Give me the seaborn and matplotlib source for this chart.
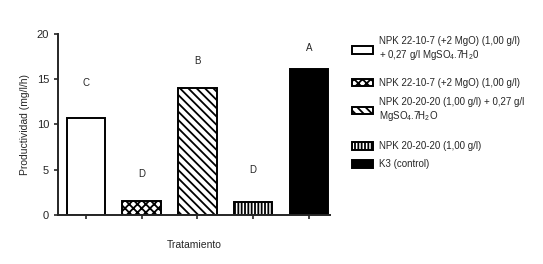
import pandas as pd
import seaborn as sns
import matplotlib.pyplot as plt
from matplotlib.patches import Patch

# data
treatments = ['NPK 22-10-7 (+2 MgO) (1,00 g/l)\n+ 0,27 g/l MgSO$_4$.7H$_2$0',
              'NPK 22-10-7 (+2 MgO) (1,00 g/l)',
              'NPK 20-20-20 (1,00 g/l) + 0,27 g/l\nMgSO$_4$.7H$_2$O',
              'NPK 20-20-20 (1,00 g/l)',
              'K3 (control)']
productividad = [10.7, 1.55, 14.05, 1.4, 16.1]
letters = ['C', 'D', 'B', 'D', 'A']
letter_y = [14.6, 4.5, 17.05, 5.0, 18.5]

fills = ['white', 'white', 'white', 'white', 'black']
hatches = ['', 'xxxx', '\\\\\\\\', '|||||', '']

df = pd.DataFrame({'trat': treatments, 'prod': productividad})

sns.set_style('ticks')
plt.rcParams['font.family'] = ['Liberation Sans', 'DejaVu Sans']
plt.rcParams['hatch.linewidth'] = 1.3
plt.rcParams['mathtext.fontset'] = 'custom'
plt.rcParams['mathtext.rm'] = 'Liberation Sans'

fig = plt.figure(figsize=(5.43, 2.64), dpi=100)
ax = fig.add_axes([0.107, 0.186, 0.501, 0.685])

sns.barplot(data=df, x='trat', y='prod', hue='trat', palette=dict(zip(treatments, fills)),
            edgecolor='black', linewidth=1.4, width=0.69, legend=False, ax=ax)
for bar, h in zip(ax.patches, hatches):
    bar.set_hatch(h)

for i, (lab, yy) in enumerate(zip(letters, letter_y)):
    ax.text(i, yy, lab, ha='center', va='center', fontsize=7)

ax.set_ylim(0, 20)
ax.set_xlim(-0.5, 4.38)
ax.set_yticks([0, 5, 10, 15, 20])
ax.set_xticks(range(5))
ax.set_xticklabels([])
ax.tick_params(axis='both', length=3, width=1.2, labelsize=8)
ax.tick_params(axis='x', pad=2)
sns.despine(ax=ax)
for s in ['left', 'bottom']:
    ax.spines[s].set_linewidth(1.4)
ax.set_xlabel('Tratamiento', fontsize=7.5, labelpad=13)
ax.set_ylabel('Productividad (mg/l/h)', fontsize=7.5, labelpad=5)

# legend entries placed one by one to keep the uneven spacing
leg_y = [0.814, 0.686, 0.584, 0.447, 0.378]
for lab, f, h, yy in zip(treatments, fills, hatches, leg_y):
    handle = Patch(facecolor=f, edgecolor='black', hatch=h, linewidth=1.4)
    fig.legend(handles=[handle], labels=[lab], loc='center left',
               bbox_to_anchor=(0.648, yy), frameon=False, fontsize=7,
               handlelength=2.2, handleheight=0.85, handletextpad=0.6,
               borderpad=0, borderaxespad=0)

fig.savefig('out.png', dpi=100)
